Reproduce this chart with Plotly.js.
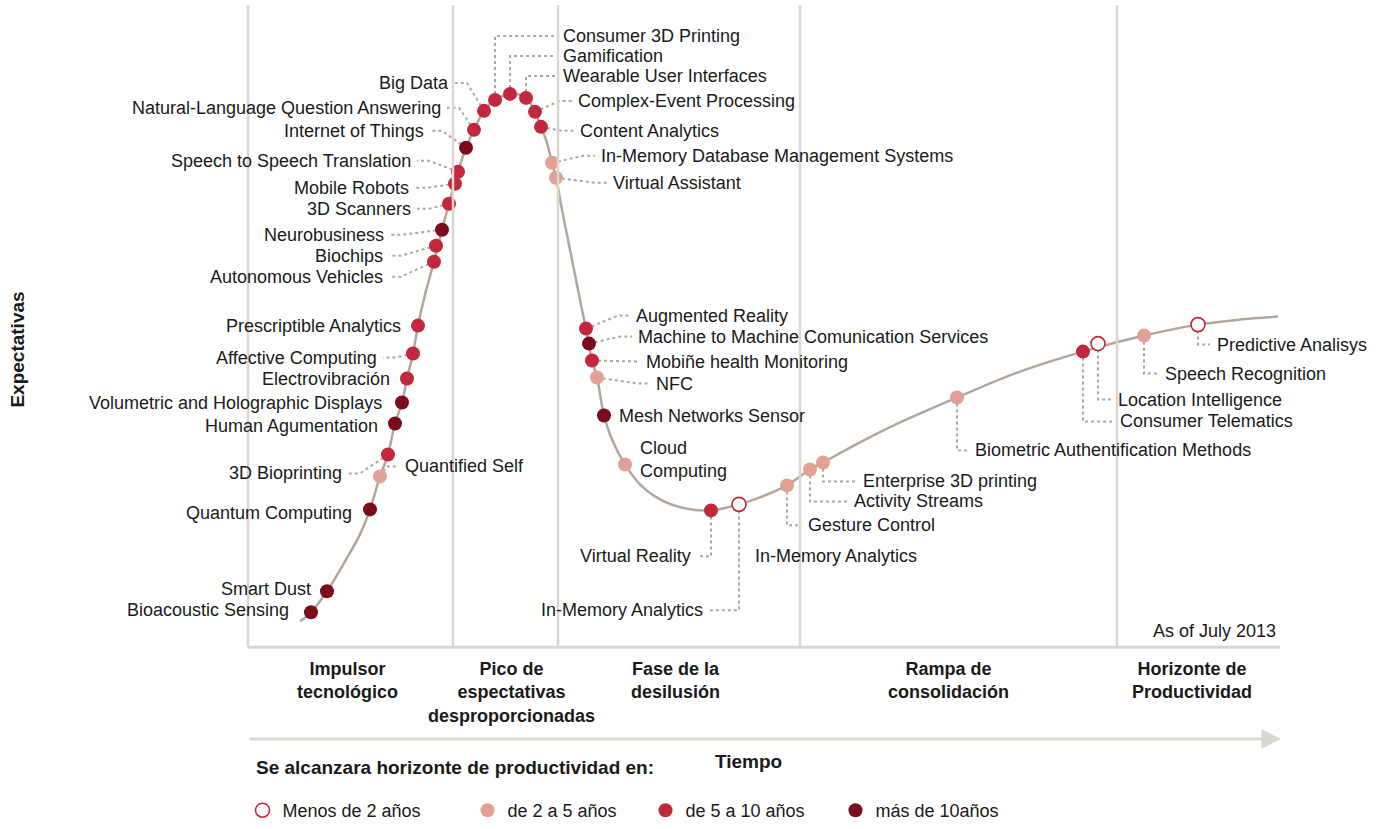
<!DOCTYPE html>
<html>
<head>
<meta charset="utf-8">
<script src="https://cdn.plot.ly/plotly-3.0.1.min.js"></script>
<style>
  html, body { margin: 0; padding: 0; background: #fff; }
  #hype { width: 1392px; height: 829px; }
</style>
</head>
<body>
<div id="hype"></div>
<script>
// Hype cycle curve (time -> expectations), chart units
const curveX = [300, 311, 327, 345, 360, 370, 380, 388, 395, 402, 407, 413, 418, 425, 434, 442, 449, 458, 466, 474, 484, 495, 510, 526, 535, 541, 547, 552, 556, 562, 568, 575, 581, 586, 592, 597, 604, 612, 625, 640, 660, 685, 711, 739, 760, 787, 810, 823, 860, 900, 957, 1020, 1083, 1144, 1198, 1240, 1278];
const curveY = [622, 613, 592, 562, 535, 510, 477, 455, 424, 403, 379, 354, 326, 295, 262, 230, 204, 172, 148, 130, 111, 100, 94, 98, 112, 127, 143, 163, 178, 210, 240, 275, 305, 329, 361, 378, 416, 440, 465, 485, 500, 509, 511, 505, 498, 486, 470, 463, 443, 423, 398, 372, 352, 336, 325, 320, 317];

// Technologies on the curve
const techNames = [
  'Bioacoustic Sensing', 'Smart Dust', 'Quantum Computing', 'Quantified Self', '3D Bioprinting',
  'Human Agumentation', 'Volumetric and Holographic Displays', 'Electrovibración', 'Affective Computing',
  'Prescriptible Analytics', 'Autonomous Vehicles', 'Biochips', 'Neurobusiness', '3D Scanners',
  'Mobile Robots', 'Speech to Speech Translation', 'Internet of Things', 'Natural-Language Question Answering',
  'Big Data', 'Consumer 3D Printing', 'Gamification', 'Wearable User Interfaces', 'Complex-Event Processing',
  'Content Analytics', 'In-Memory Database Management Systems', 'Virtual Assistant', 'Augmented Reality',
  'Machine to Machine Comunication Services', 'Mobiñe health Monitoring', 'NFC', 'Mesh Networks Sensor',
  'Cloud<br>Computing', 'Virtual Reality', 'In-Memory Analytics', 'Gesture Control', 'Activity Streams',
  'Enterprise 3D printing', 'Biometric Authentification Methods', 'Consumer Telematics',
  'Location Intelligence', 'Speech Recognition', 'Predictive Analisys'
];
const techX = [311, 327, 370, 380, 388, 395, 402, 407, 413, 418, 434, 436, 442, 449, 455, 458, 466, 474, 484, 495, 510, 526, 535, 541, 552, 556, 586, 589, 592, 597, 604, 625, 711, 739, 787, 810, 823, 957, 1083, 1098, 1144, 1198];
const techY = [613, 592, 510, 477, 455, 424, 403, 379, 354, 326, 262, 246, 230, 204, 184, 172, 148, 130, 111, 100, 94, 98, 112, 127, 163, 178, 329, 344, 361, 378, 416, 465, 511, 505, 486, 470, 463, 398, 352, 344, 336, 325];
// 0 = menos de 2 años, 1 = 2 a 5, 2 = 5 a 10, 3 = más de 10
const techCat = [3, 3, 3, 1, 2, 3, 3, 2, 2, 2, 2, 2, 3, 2, 2, 2, 3, 2, 2, 2, 2, 2, 2, 2, 1, 1, 2, 3, 2, 1, 3, 1, 2, 0, 1, 1, 1, 1, 2, 0, 1, 0];

// Label placement: anchor point, side and leader kind
const labelX = [291, 313, 354, 403, 344, 380, 384, 392, 379, 403, 385, 385, 386, 413, 411, 413, 426, 443, 451, 561, 561, 561, 576, 578, 599, 611, 634, 636, 644, 654, 617, 638, 693, 705, 806, 852, 861, 973, 1118, 1116, 1163, 1215];
const labelY = [611, 590, 514, 467, 474, 427, 403, 379, 358, 326, 277, 256, 235, 209, 188, 161, 131, 108, 83, 36, 56, 76, 101, 131, 156, 183, 316, 337, 362, 384, 416, 460, 557, 611, 526, 502, 482, 451, 422, 400, 374, 345];
const labelSide = ['R', 'R', 'R', 'L', 'R', 'R', 'R', 'R', 'R', 'R', 'R', 'R', 'R', 'R', 'R', 'R', 'R', 'R', 'R', 'L', 'L', 'L', 'L', 'L', 'L', 'L', 'L', 'L', 'L', 'L', 'L', 'L', 'R', 'R', 'L', 'L', 'L', 'L', 'L', 'L', 'L', 'L'];
const leaderKind = ['none', 'none', 'none', 'slant', 'slant', 'none', 'none', 'none', 'slant', 'none', 'slant', 'slant', 'slant', 'slant', 'slant', 'slant', 'slant', 'slant', 'slant', 'elbow', 'elbow', 'elbow', 'slant', 'slant', 'slant', 'slant', 'slant', 'slant', 'slant', 'slant', 'none', 'none', 'elbow', 'elbow', 'elbow', 'elbow', 'elbow', 'elbow', 'elbow', 'elbow', 'elbow', 'elbow'];

// Phases
const phaseBounds = [248, 453, 558, 800, 1117];
const phaseNames = ['Impulsor<br>tecnológico', 'Pico de<br>espectativas<br>desproporcionadas', 'Fase de la<br>desilusión', 'Rampa de<br>consolidación', 'Horizonte de<br>Productividad'];
const phaseCenters = [347, 511, 675, 948, 1192];

const catNames = ['Menos de 2 años', 'de 2 a 5 años', 'de 5 a 10 años', 'más de 10años'];
const catFill = ['#ffffff', '#e2a195', '#c2283b', '#7c0b1c'];
const catLine = ['#c2283b', '#e2a195', '#c2283b', '#7c0b1c'];
const legendPos = [262, 487, 665, 855]; // legend symbol centres

const FONT = 'Liberation Sans, Arial, sans-serif';
const GREY = '#b3a79d';
const INK = '#1a1a1a';

// leader lines
const lx = [], ly = [];
techNames.forEach((n, i) => {
  const k = leaderKind[i];
  if (k === 'none') return;
  const dir = labelSide[i] === 'L' ? -1 : 1;
  if (k === 'slant') {
    lx.push(techX[i], labelX[i] + dir * 16, labelX[i] + dir * 4, null);
    ly.push(techY[i], labelY[i], labelY[i], null);
  } else {
    lx.push(techX[i], techX[i], labelX[i] + dir * 5, null);
    ly.push(techY[i], labelY[i], labelY[i], null);
  }
});

const data = [
  {
    x: lx, y: ly, mode: 'lines', hoverinfo: 'skip', showlegend: false,
    line: { color: GREY, width: 2, dash: 'dot' }
  },
  {
    x: curveX, y: curveY, mode: 'lines', hoverinfo: 'skip', showlegend: false,
    line: { color: GREY, width: 2.5, shape: 'spline', smoothing: 1 }
  }
];

catNames.forEach((name, c) => {
  const idx = techCat.map((v, i) => v === c ? i : -1).filter(i => i >= 0);
  data.push({
    x: idx.map(i => techX[i]),
    y: idx.map(i => techY[i]),
    text: idx.map(i => techNames[i]),
    mode: 'markers',
    name: name,
    legend: c === 0 ? 'legend' : 'legend' + (c + 1),
    hoverinfo: 'text',
    marker: { size: 14, color: catFill[c], line: { color: catLine[c], width: c === 0 ? 1.6 : 0 } }
  });
});

const annotations = techNames.map((n, i) => ({
  x: labelX[i], y: labelY[i], text: n, showarrow: false,
  xanchor: labelSide[i] === 'L' ? 'left' : 'right', yanchor: 'middle',
  align: 'left',
  font: { family: FONT, size: 18, color: INK }
}));

annotations.push(
  { x: 753, y: 557, text: 'In-Memory Analytics', showarrow: false, xanchor: 'left', yanchor: 'middle',
    font: { family: FONT, size: 18, color: INK } },
  { x: 1278, y: 632, text: 'As of July 2013', showarrow: false, xanchor: 'right', yanchor: 'middle',
    font: { family: FONT, size: 18, color: INK } },
  { x: 18, y: 350, text: '<b>Expectativas</b>', showarrow: false, textangle: -90,
    font: { family: FONT, size: 19, color: INK } },
  { x: 748, y: 762, text: '<b>Tiempo</b>', showarrow: false,
    font: { family: FONT, size: 19, color: INK } },
  { x: 254, y: 768, text: '<b>Se alcanzara horizonte de productividad en:</b>', showarrow: false, xanchor: 'left',
    font: { family: FONT, size: 19, color: INK } },
  // time arrow
  { x: 1281, y: 740, ax: 248, ay: 740, axref: 'x', ayref: 'y', xref: 'x', yref: 'y', text: '',
    showarrow: true, arrowhead: 2, arrowsize: 1.3, arrowwidth: 3, arrowcolor: '#ddd6cf' }
);

phaseNames.forEach((p, i) => {
  annotations.push({
    x: phaseCenters[i], y: 658, text: '<b>' + p + '</b>', showarrow: false,
    xanchor: 'center', yanchor: 'top', align: 'center',
    font: { family: FONT, size: 18, color: INK }
  });
});

const shapes = phaseBounds.map(b => ({
  type: 'line', x0: b, x1: b, y0: 5, y1: 648,
  line: { color: '#ddd6cf', width: 2.5 }
}));
shapes.push({ type: 'line', x0: 248, x1: 1280, y0: 648, y1: 648, line: { color: '#ddd6cf', width: 3 } });

const layout = {
  width: 1392, height: 829,
  margin: { l: 0, r: 0, t: 0, b: 0 },
  paper_bgcolor: '#ffffff', plot_bgcolor: '#ffffff',
  xaxis: { range: [0, 1392], visible: false, fixedrange: true },
  yaxis: { range: [829, 0], visible: false, fixedrange: true },
  showlegend: true,
  annotations: annotations,
  shapes: shapes,
  hovermode: 'closest'
};

legendPos.forEach((px, c) => {
  layout[c === 0 ? 'legend' : 'legend' + (c + 1)] = {
    orientation: 'h', x: (px - 19.5) / 1392, y: 0.021, xanchor: 'left', yanchor: 'middle',
    bgcolor: 'rgba(0,0,0,0)',
    font: { family: FONT, size: 18, color: INK },
    itemclick: false, itemdoubleclick: false
  };
});

Plotly.newPlot('hype', data, layout, { displayModeBar: false });
</script>
</body>
</html>
